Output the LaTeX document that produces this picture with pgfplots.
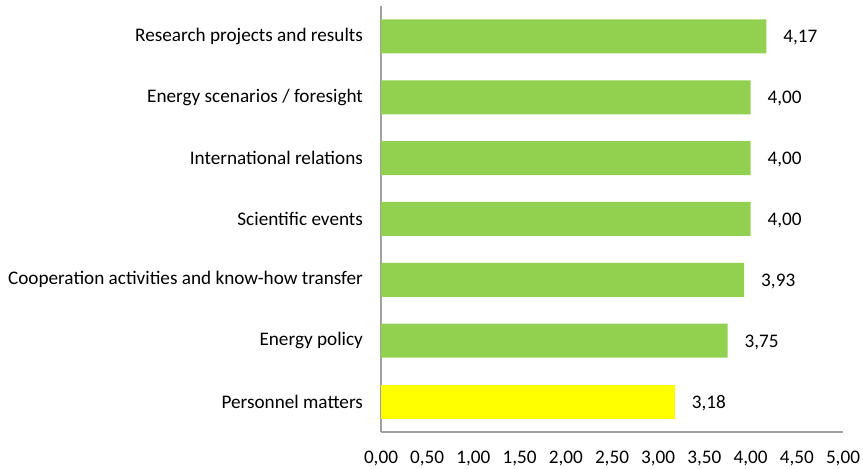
\documentclass[border=0pt]{standalone}
\usepackage{pgfplots}
\pgfplotsset{compat=1.18}
\usepackage{fontspec}
\setmainfont{Carlito}
\definecolor{bargreen}{HTML}{92D050}
\definecolor{baryellow}{HTML}{FFFF00}
\definecolor{axisgray}{HTML}{A0A0A0}
\newcommand{\lblfont}{\fontsize{19.2}{22}\selectfont}
\begin{document}
\lblfont
\begin{tikzpicture}
\begin{axis}[
  name=ax,
  scale only axis,
  width=462pt, height=426pt,
  xbar, bar width=34pt, bar shift=0pt,
  xmin=0, xmax=5,
  ymin=-0.5, ymax=6.5,
  xtick={0,0.5,...,5},
  ytick={0,1,2,3,4,5,6},
  yticklabels={Personnel matters, Energy policy, Cooperation activities and know-how transfer, Scientific events, International relations, Energy scenarios / foresight, Research projects and results},
  axis x line*=bottom, axis y line*=left,
  axis line style={axisgray, line width=1.5pt},
  x axis line style={-}, y axis line style={-},
  major tick length=0pt,
  /pgf/number format/assume math mode=true,
  /pgf/number format/.cd, fixed, fixed zerofill, precision=2, use comma,
  /pgfplots/.cd,
  xticklabel style={yshift=-12.5pt, font=\lblfont},
  yticklabel style={xshift=-11.5pt, font=\lblfont},
  nodes near coords,
  nodes near coords style={anchor=west, xshift=10.5pt, yshift=-1.5pt, font=\lblfont, /pgf/number format/.cd, fixed, fixed zerofill, precision=2, use comma, assume math mode=true},
  clip=false,
]
\addplot[draw=none, fill=bargreen] coordinates {(3.75,1) (3.93,2) (4.00,3) (4.00,4) (4.00,5) (4.17,6)};
\addplot[draw=none, fill=baryellow] coordinates {(3.18,0)};
\end{axis}
\pgfresetboundingbox
\path[use as bounding box] ([xshift=-381pt,yshift=-37pt]ax.south west) rectangle ([xshift=20pt,yshift=6pt]ax.north east);
\end{tikzpicture}
\end{document}
